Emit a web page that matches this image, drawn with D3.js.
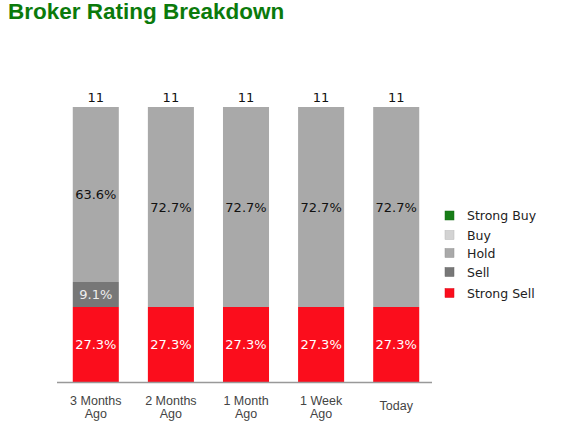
<!DOCTYPE html>
<html>
<head>
<meta charset="utf-8">
<script src="https://cdn.jsdelivr.net/npm/d3@7"></script>
<style>
  body { margin: 0; background: #fff; }
</style>
</head>
<body>
<script>
// Chart data
const periods = ["3 Months Ago", "2 Months Ago", "1 Month Ago", "1 Week Ago", "Today"];
const periodLines = [["3 Months", "Ago"], ["2 Months", "Ago"], ["1 Month", "Ago"], ["1 Week", "Ago"], ["Today"]];
const ratings = ["Strong Buy", "Buy", "Hold", "Sell", "Strong Sell"];
const strongBuy = [0, 0, 0, 0, 0];
const buy = [0, 0, 0, 0, 0];
const hold = [7, 8, 8, 8, 8];
const sell = [1, 0, 0, 0, 0];
const strongSell = [3, 3, 3, 3, 3];
const ratingColors = ["#177d17", "#d3d3d3", "#a9a9a9", "#777777", "#fb0d1c"];
const labelColors = ["#fff", "#111", "#111", "#eee", "#fff"];

const width = 587, height = 427;

// Plot area
const plotLeft = 57, plotRight = 432;
const plotTop = 107, plotBottom = 382;

const svg = d3.select("body").append("svg")
    .attr("width", width)
    .attr("height", height)
    .attr("viewBox", [0, 0, width, height]);

// Title
svg.append("text")
    .attr("x", 8)
    .attr("y", 19)
    .attr("font-family", "Liberation Sans, Arial, sans-serif")
    .attr("font-weight", "bold")
    .attr("font-size", 22.5)
    .attr("fill", "#0b7a0b")
    .text("Broker Rating Breakdown");

// Build rows for stacking (stack order: Strong Sell at bottom)
const seriesByRating = [strongBuy, buy, hold, sell, strongSell];
const rows = periods.map((p, i) => {
    let row = {period: p, total: 0};
    ratings.forEach((r, j) => {
        row[r] = seriesByRating[j][i];
        row.total += seriesByRating[j][i];
    });
    return row;
});

const stackOrder = ["Strong Sell", "Sell", "Hold", "Buy", "Strong Buy"];
const stacked = d3.stack().keys(stackOrder)(rows.map(r => {
    let o = {period: r.period};
    stackOrder.forEach(k => o[k] = r[k] / r.total);
    return o;
}));

const xScale = d3.scaleBand()
    .domain(periods)
    .range([plotLeft + 1.5, plotRight + 1.5])
    .paddingInner(0.387)
    .paddingOuter(0.19);
const yScale = d3.scaleLinear().domain([0, 1]).range([plotBottom, plotTop]);
const colorScale = d3.scaleOrdinal().domain(ratings).range(ratingColors);
const labelColor = d3.scaleOrdinal().domain(ratings).range(labelColors);

// Bars
const layers = svg.append("g")
    .selectAll("g")
    .data(stacked)
    .enter()
    .append("g")
    .attr("fill", d => colorScale(d.key));

layers.selectAll("rect")
    .data(d => d.map(v => ({key: d.key, v: v})))
    .enter()
    .append("rect")
    .attr("x", d => xScale(d.v.data.period))
    .attr("width", xScale.bandwidth())
    .attr("y", d => yScale(d.v[1]))
    .attr("height", d => yScale(d.v[0]) - yScale(d.v[1]));

// Segment percentage labels
layers.selectAll("text")
    .data(d => d.map(v => ({key: d.key, v: v})).filter(d => d.v[1] - d.v[0] > 0))
    .enter()
    .append("text")
    .attr("x", d => xScale(d.v.data.period) + xScale.bandwidth() / 2)
    .attr("y", d => (yScale(d.v[0]) + yScale(d.v[1])) / 2)
    .attr("dy", "0.36em")
    .attr("text-anchor", "middle")
    .attr("font-family", "DejaVu Sans, sans-serif")
    .attr("font-size", 13)
    .attr("fill", d => labelColor(d.key))
    .text(d => ((d.v[1] - d.v[0]) * 100).toFixed(1) + "%");

// Totals above bars
svg.append("g")
    .selectAll("text")
    .data(rows)
    .enter()
    .append("text")
    .attr("x", d => xScale(d.period) + xScale.bandwidth() / 2)
    .attr("y", plotTop - 5)
    .attr("text-anchor", "middle")
    .attr("font-family", "DejaVu Sans, sans-serif")
    .attr("font-size", 13)
    .attr("fill", "#111")
    .text(d => d.total);

// X axis
const xAxis = d3.axisBottom(xScale).tickSize(0).tickSizeOuter(0).tickFormat("");
const xAxisRef = svg.append("g")
    .attr("transform", `translate(0, ${plotBottom})`)
    .call(xAxis);
xAxisRef.select(".domain")
    .attr("d", `M${plotLeft},0.5H${plotRight}`)
    .attr("stroke", "#999")
    .attr("stroke-width", 1.5);

xAxisRef.selectAll(".tick")
    .append("text")
    .attr("font-family", "Liberation Sans, Arial, sans-serif")
    .attr("font-size", 12.5)
    .attr("fill", "#444")
    .attr("text-anchor", "middle")
    .each(function(d, i) {
        const lines = periodLines[i];
        const t = d3.select(this);
        const startY = lines.length === 1 ? 28 : 23;
        lines.forEach((ln, k) => {
            t.append("tspan")
                .attr("x", 0)
                .attr("y", startY + k * 13)
                .text(ln);
        });
    });

// Legend
const legend = svg.append("g")
    .attr("transform", "translate(445, 211)");
const legendY = [0, 19.5, 37.5, 56.5, 77.5];
ratings.forEach((r, i) => {
    const g = legend.append("g").attr("transform", `translate(0, ${legendY[i]})`);
    g.append("rect")
        .attr("width", 9)
        .attr("height", 9)
        .attr("fill", colorScale(r))
        .attr("stroke", d3.color(colorScale(r)).darker(0.4))
        .attr("stroke-width", 0.5);
    g.append("text")
        .attr("x", 22)
        .attr("y", 4.5)
        .attr("dy", "0.36em")
        .attr("font-family", "DejaVu Sans, sans-serif")
        .attr("font-size", 12.5)
        .attr("fill", "#222")
        .text(r);
});
</script>
</body>
</html>
